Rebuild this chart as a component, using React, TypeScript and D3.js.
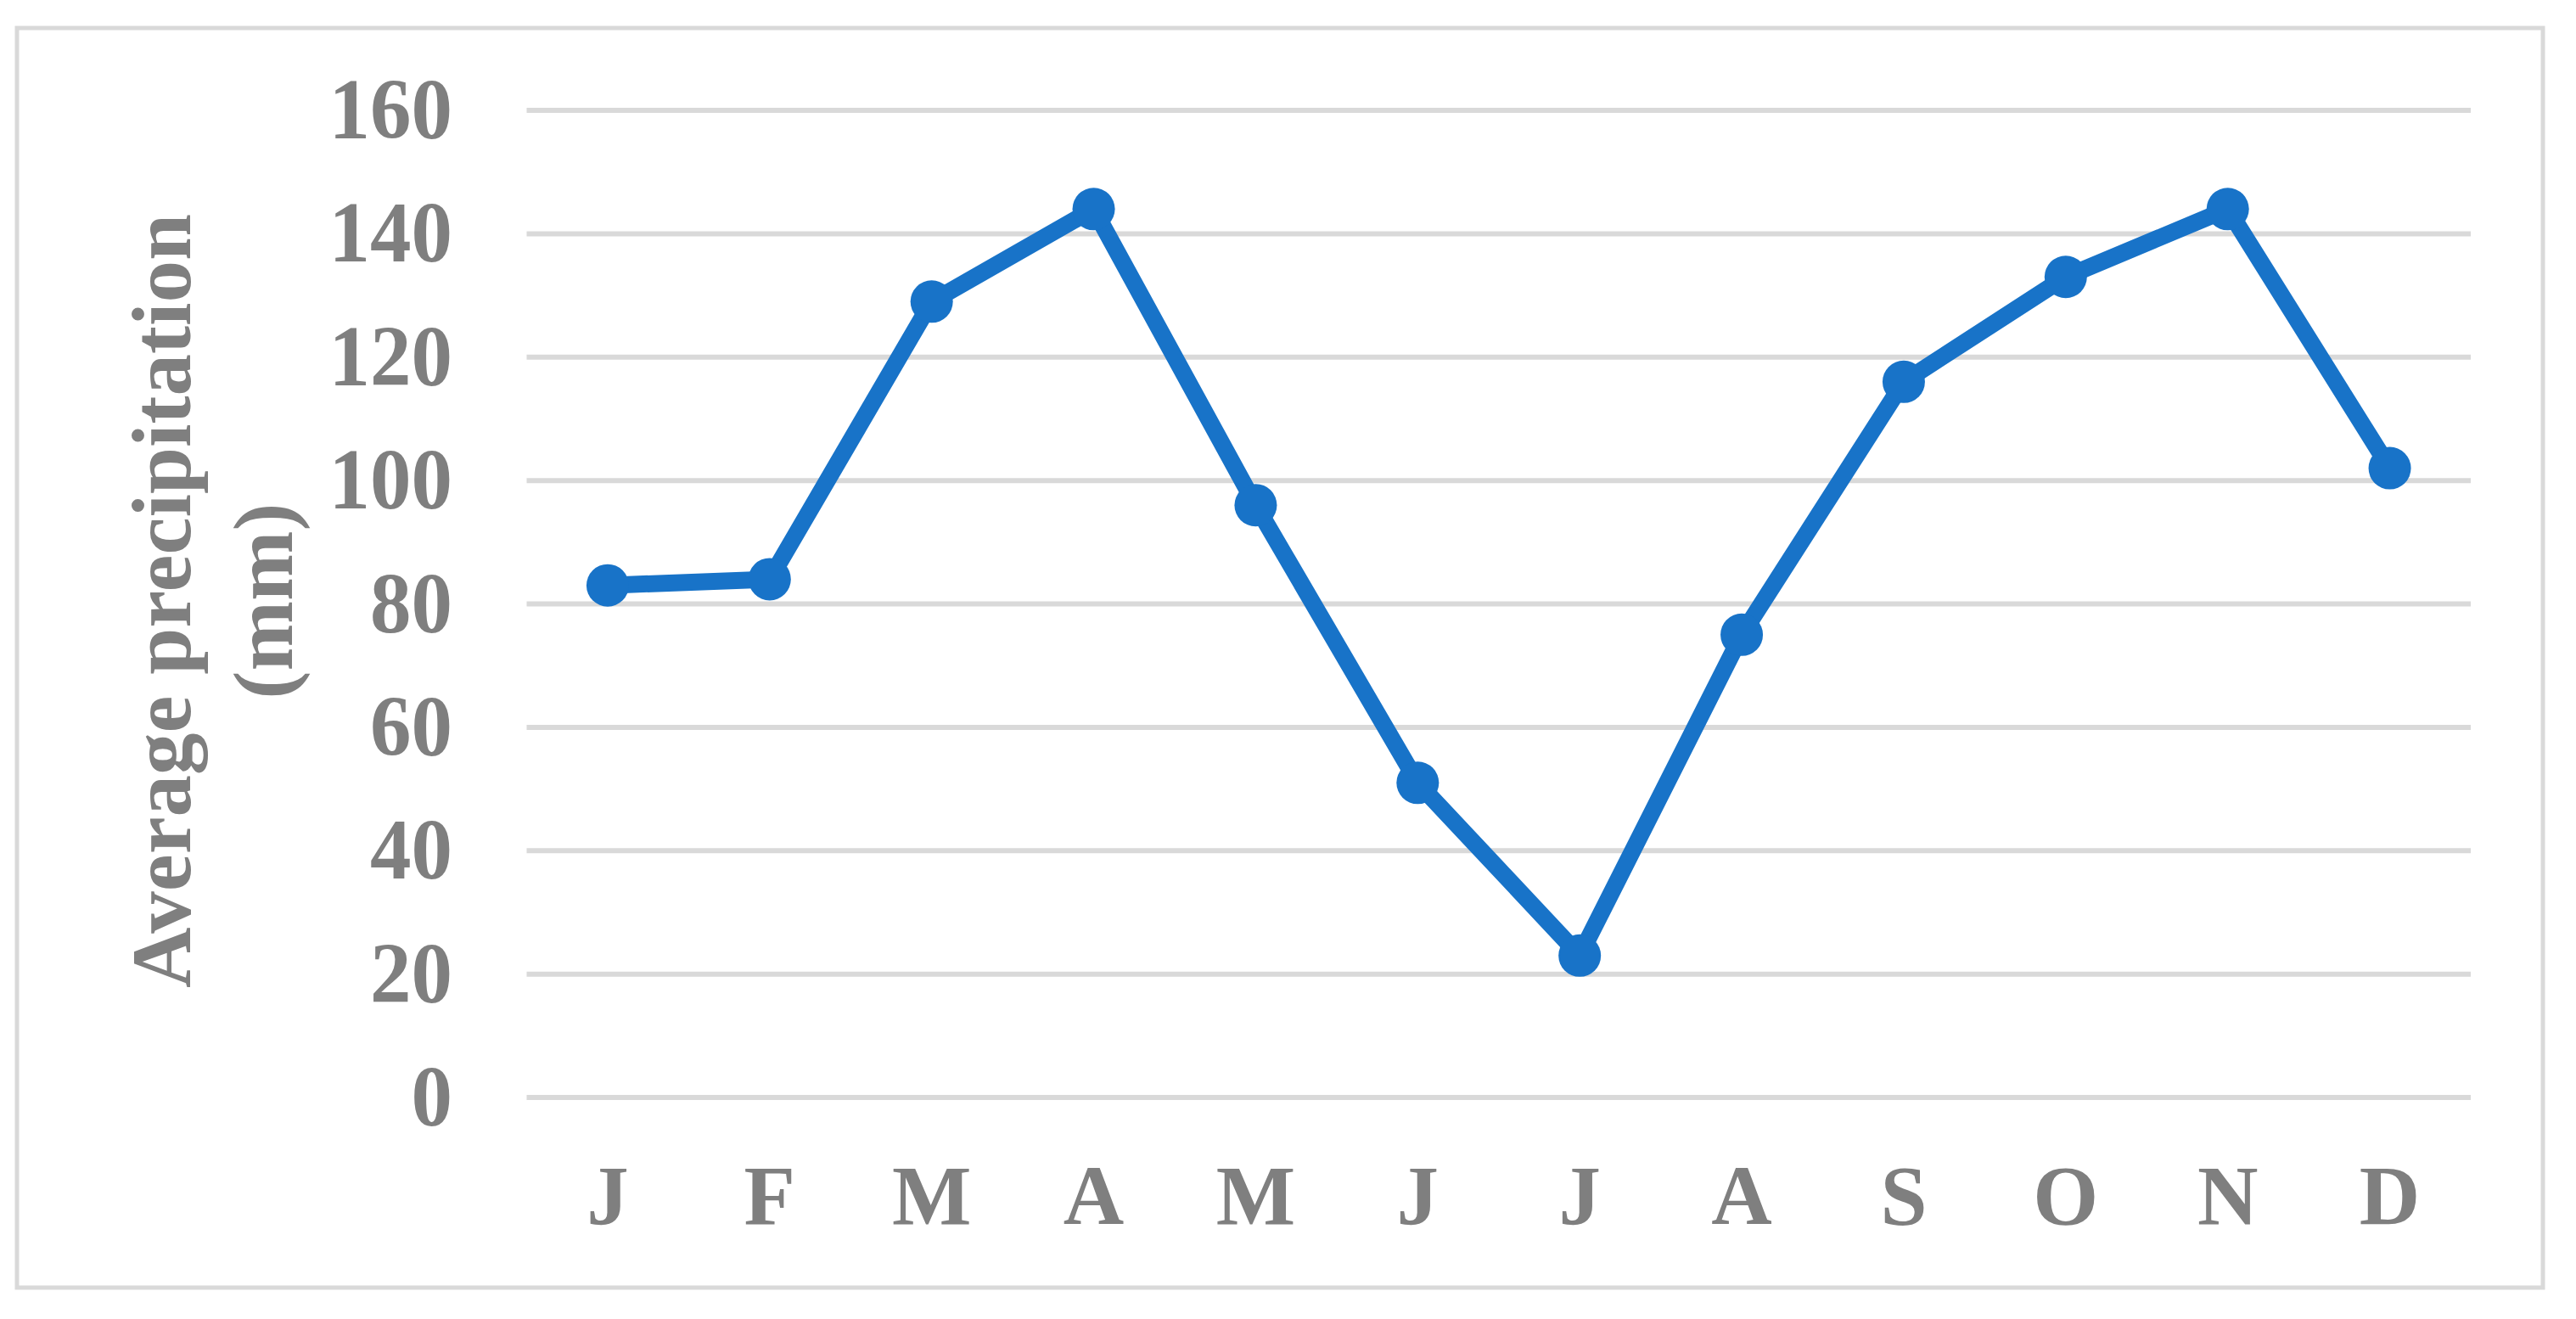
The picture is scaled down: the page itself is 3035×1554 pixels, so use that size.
import React from 'react';
import * as d3 from 'd3';

// monthly averages
const months = ['J', 'F', 'M', 'A', 'M', 'J', 'J', 'A', 'S', 'O', 'N', 'D'];
const precip = [83, 84, 129, 144, 96, 51, 23, 75, 116, 133, 144, 102];
const yTicks = [0, 20, 40, 60, 80, 100, 120, 140, 160];
const titleLines = ['Average precipitation', '(mm)'];

const W = 3035;
const H = 1554;
const grey = '#7f7f7f';
const txt = {
  fontFamily: "'Liberation Serif', 'Times New Roman', Tinos, serif",
  fontWeight: 700,
  fill: grey,
};

export default function App() {
  // band positions, so each month sits in the middle of its slot
  const x = d3.scaleBand<number>()
    .domain(d3.range(months.length))
    .range([620.5, 2911]);
  const y = d3.scaleLinear().domain([0, 160]).range([1293, 130]);

  const cx = (i: number) => (x(i) as number) + x.bandwidth() / 2;

  const line = d3.line<number>()
    .x((d, i) => cx(i))
    .y(d => y(d));

  return (
    <div style={{ position: 'absolute', left: 0, top: 0 }}>
      <svg width={W} height={H} style={{ display: 'block', background: '#fff' }}>
        <rect x={20} y={33} width={2976} height={1484} fill="#fff" stroke="#d9d9d9" strokeWidth={5} />

        {yTicks.map(t => (
          <g key={t}>
            <line x1={x.range()[0]} x2={x.range()[1]} y1={y(t)} y2={y(t)} stroke="#d9d9d9" strokeWidth={6} />
            {/* the original labels are a touch taller than wide */}
            <text transform={`translate(533,${y(t) + 33}) scale(1,1.05)`} textAnchor="end"
              style={{ ...txt, fontSize: 97 }}>{t}</text>
          </g>
        ))}

        {months.map((m, i) => (
          <text key={i} x={cx(i)} y={1442} textAnchor="middle" style={{ ...txt, fontSize: 99 }}>{m}</text>
        ))}

        {titleLines.map((s, i) => (
          <text key={s} transform={`translate(${224 + i * 120},708) rotate(-90)`} textAnchor="middle"
            style={{ ...txt, fontSize: 99 }}>{s}</text>
        ))}

        <path d={line(precip) || ''} fill="none" stroke="#1873c8" strokeWidth={20} strokeLinejoin="round" />
        {precip.map((v, i) => (
          <circle key={i} cx={cx(i)} cy={y(v)} r={25} fill="#1873c8" />
        ))}
      </svg>
    </div>
  );
}
